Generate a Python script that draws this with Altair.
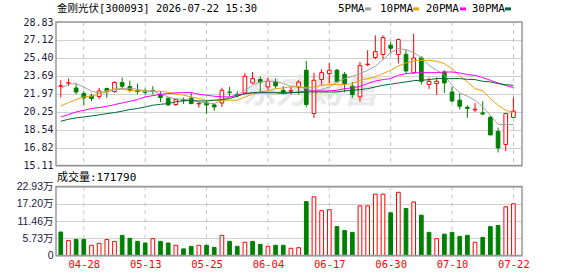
import json
import altair as alt
import pandas as pd

# ---------------- data ----------------
dates = ["04-23", "04-24", "04-27", "04-28", "04-29", "04-30", "05-06", "05-07", "05-08", "05-11",
         "05-12", "05-13", "05-14", "05-15", "05-18", "05-19", "05-20", "05-21", "05-22", "05-25",
         "05-26", "05-27", "05-28", "05-29", "06-01", "06-02", "06-03", "06-04", "06-08", "06-09",
         "06-10", "06-11", "06-12", "06-15", "06-16", "06-17", "06-18", "06-22", "06-23", "06-24",
         "06-25", "06-26", "06-29", "06-30", "07-01", "07-02", "07-03", "07-06", "07-07", "07-08",
         "07-09", "07-10", "07-13", "07-14", "07-15", "07-16", "07-17", "07-20", "07-21", "07-22"]

open_ = [22.68, 22.98, 22.52, 21.99, 21.76, 21.70, 22.47, 22.18, 23.04, 22.66,
         22.26, 22.18, 22.26, 21.92, 21.54, 20.94, 21.40, 21.54, 21.00, 21.09,
         20.90, 21.09, 22.14, 21.92, 22.05, 23.00, 23.33, 22.62, 23.10, 22.30,
         22.22, 22.60, 24.22, 20.08, 23.33, 23.90, 24.22, 23.83, 22.69, 21.67,
         24.76, 25.43, 25.72, 26.61, 25.72, 25.74, 23.96, 25.39, 22.85, 22.94,
         24.05, 22.14, 21.35, 20.68, 20.43, 20.14, 19.72, 18.36, 17.12, 19.70]
high = [23.26, 23.42, 22.94, 22.21, 21.99, 22.52, 22.56, 23.16, 23.52, 23.23,
        22.94, 22.47, 22.69, 22.21, 21.61, 21.45, 21.61, 22.05, 21.19, 21.35,
        21.03, 22.56, 22.62, 22.21, 23.96, 24.05, 23.64, 23.52, 23.42, 22.72,
        22.62, 23.26, 25.10, 23.96, 24.31, 24.91, 24.34, 24.05, 23.10, 25.01,
        26.13, 27.56, 27.56, 26.92, 27.24, 26.19, 27.72, 25.55, 23.52, 23.52,
        24.22, 22.62, 21.99, 20.87, 21.09, 21.25, 19.85, 18.74, 20.08, 21.61]
low = [21.61, 22.72, 21.92, 20.87, 21.25, 21.45, 21.57, 22.08, 22.37, 22.11,
       21.92, 21.89, 21.92, 21.19, 20.80, 20.80, 21.00, 20.97, 20.65, 20.04,
       20.33, 20.71, 21.73, 21.61, 21.92, 22.88, 22.05, 22.30, 22.47, 21.92,
       21.89, 21.92, 20.65, 19.66, 22.78, 22.94, 23.04, 22.11, 21.57, 21.22,
       24.60, 25.27, 25.27, 25.81, 24.86, 23.96, 23.90, 22.85, 22.43, 21.86,
       22.05, 21.16, 20.46, 19.66, 20.23, 19.92, 18.03, 16.35, 16.48, 19.70]
close = [22.74, 23.02, 22.14, 21.57, 21.51, 22.24, 22.24, 23.04, 22.69, 22.30,
         22.18, 22.11, 22.20, 21.61, 20.90, 21.42, 21.30, 21.03, 21.05, 20.90,
         20.71, 22.30, 22.08, 21.80, 23.64, 23.42, 23.07, 23.16, 22.72, 21.99,
         22.26, 23.08, 20.94, 23.26, 23.99, 24.22, 23.13, 22.94, 21.89, 24.66,
         24.80, 26.00, 27.34, 26.32, 27.15, 24.15, 25.39, 23.16, 23.16, 23.16,
         23.00, 21.28, 20.78, 20.56, 20.49, 20.04, 18.03, 16.79, 20.08, 20.30]

# volume in 万 (10k shares)
vol_wan = [7.8, 5.0, 5.37, 5.37, 3.4, 4.05, 5.3, 4.7, 6.7, 5.7,
           4.7, 4.15, 5.6, 4.7, 4.15, 3.4, 2.2, 3.05, 3.4, 3.4,
           2.7, 6.7, 4.7, 3.05, 4.4, 4.7, 3.7, 3.05, 3.4, 3.4,
           2.4, 2.6, 17.9, 19.5, 14.9, 15.2, 9.6, 8.3, 7.7, 16.5,
           16.5, 20.4, 20.4, 14.2, 21.0, 15.6, 17.8, 13.4, 7.7, 5.6,
           7.1, 7.7, 6.35, 6.7, 4.4, 6.0, 9.6, 10.0, 16.2, 17.179]
vol_up = [0, 1, 0, 0, 1, 1, 1, 1, 0, 0,
          0, 0, 1, 0, 0, 1, 0, 0, 1, 0,
          0, 1, 0, 0, 1, 0, 0, 1, 0, 0,
          1, 1, 0, 1, 1, 1, 0, 0, 0, 1,
          1, 1, 1, 0, 1, 0, 1, 0, 0, 1,
          0, 0, 0, 0, 1, 0, 0, 0, 1, 1]

ma5 = [22.46, 22.88, 22.94, 22.62, 22.21, 22.05, 22.08, 22.40, 22.49, 22.49,
       22.40, 22.24, 22.24, 21.92, 21.67, 21.48, 21.44, 21.35, 21.19, 21.09,
       21.03, 21.35, 21.67, 21.83, 22.30, 22.78, 23.10, 23.16, 23.16, 22.94,
       22.68, 22.65, 22.46, 22.24, 22.37, 22.62, 23.10, 23.42, 23.64, 23.90,
       24.21, 24.60, 25.23, 25.90, 26.28, 26.19, 25.90, 25.42, 24.69, 24.21,
       23.73, 22.78, 22.05, 21.73, 21.35, 20.71, 19.91, 19.05, 19.02, 19.02]
ma10 = [20.80, 21.12, 21.41, 21.67, 21.73, 21.98, 22.24, 22.43, 22.40, 22.30,
        22.24, 22.21, 22.21, 22.21, 22.11, 21.95, 21.83, 21.67, 21.51, 21.35,
        21.35, 21.35, 21.35, 21.35, 21.67, 21.92, 22.14, 22.24, 22.46, 22.53,
        22.62, 22.65, 22.58, 22.62, 22.78, 22.84, 22.84, 22.84, 22.94, 23.26,
        23.42, 23.58, 23.90, 24.21, 24.63, 24.91, 25.13, 25.17, 25.17, 25.07,
        24.85, 24.37, 23.73, 23.10, 22.46, 22.24, 21.51, 20.87, 20.39, 20.17]
ma20 = [19.75, 19.98, 20.23, 20.39, 20.55, 20.65, 20.77, 20.93, 21.09, 21.25,
        21.41, 21.67, 21.79, 21.92, 21.98, 22.06, 22.08, 22.08, 21.92, 21.83,
        21.73, 21.67, 21.67, 21.83, 21.98, 22.05, 22.05, 22.05, 22.05, 21.98,
        22.05, 22.14, 22.21, 22.24, 22.24, 22.24, 22.30, 22.46, 22.53, 22.68,
        22.94, 23.19, 23.32, 23.42, 23.73, 23.90, 23.97, 23.99, 23.99, 23.99,
        24.05, 24.05, 23.96, 23.80, 23.73, 23.51, 23.26, 23.00, 22.75, 22.56]
ma30 = [19.34, 19.53, 19.66, 19.75, 19.85, 19.95, 20.07, 20.17, 20.30, 20.46,
        20.55, 20.71, 20.87, 20.96, 21.03, 21.20, 21.30, 21.33, 21.28, 21.28,
        21.35, 21.41, 21.51, 21.73, 21.98, 22.08, 22.11, 22.11, 22.11, 22.11,
        22.11, 22.08, 22.14, 22.14, 22.14, 22.14, 22.14, 22.24, 22.30, 22.37,
        22.46, 22.62, 22.78, 22.88, 23.00, 23.10, 23.22, 23.26, 23.32, 23.42,
        23.42, 23.42, 23.42, 23.35, 23.32, 23.16, 23.10, 22.94, 22.84, 22.78]

ma_names = ["5PMA", "10PMA", "20PMA", "30PMA"]
ma_colors = ["#a0a0a0", "#f0a000", "#ff00ff", "#006a35"]

tick_idx = [3, 11, 19, 27, 35, 43, 51, 59]
price_ticks = [15.11, 16.82, 18.54, 20.25, 21.97, 23.69, 25.40, 27.12, 28.83]
vol_ticks = [0, 5.73, 11.46, 17.20, 22.93]

title_text = "金刚光伏[300093] 2026-07-22 15:30"

# ---------------- layout (pixels) ----------------
W = 466          # plot width
H_TOP = 143.5    # price panel height
GAP = 21         # gap between panels
H_VOL = 69       # volume panel height
H = H_TOP + GAP + H_VOL
leg_text_x = [282, 324, 369.7, 415.7]
leg_sq_x = [309, 357, 404, 449]

RED = "#ff0000"
GREEN = "#008000"

# ---------------- tables ----------------
n = len(dates)
df = pd.DataFrame({"i": list(range(n)), "open": open_, "high": high,
                   "low": low, "close": close, "vol": vol_wan})
df["dir"] = ["up" if c >= o else "down" for o, c in zip(open_, close)]
df["vdir"] = ["up" if v else "down" for v in vol_up]

ma_rows = []
for name, series in zip(ma_names, [ma5, ma10, ma20, ma30]):
    for k, v in enumerate(series):
        ma_rows.append({"i": k, "ma": v, "name": name})
ma_df = pd.DataFrame(ma_rows)

leg_df = pd.DataFrame({"name": ma_names, "tx": leg_text_x, "sx": leg_sq_x,
                       "sx2": [s + 6 for s in leg_sq_x]})
grid_df = pd.DataFrame({"i": tick_idx})

# scales: both panels share one plot area, so each y domain is stretched
p_lo, p_hi = price_ticks[0], price_ticks[-1]
p_bottom = p_hi - (p_hi - p_lo) * H / H_TOP
v_top = vol_ticks[-1] * H / H_VOL

xs = alt.Scale(domain=[-0.625, 60.12], nice=False, zero=False)
ys = alt.Scale(domain=[p_bottom, p_hi], nice=False, zero=False)
vs = alt.Scale(domain=[0, v_top], nice=False, zero=False)
dir_scale = alt.Scale(domain=["up", "down"], range=[RED, GREEN])
ma_scale = alt.Scale(domain=ma_names, range=ma_colors)

ax_x = alt.Axis(values=tick_idx, labelExpr=json.dumps(dates) + "[datum.value]",
                labelColor=RED, labelFont="DejaVu Sans Mono", labelFontSize=10.5,
                labelPadding=4, labelFlush=False, labelOverlap=False,
                grid=False, ticks=False, domain=False, title=None)
ax_price = alt.Axis(values=price_ticks, format=".2f", grid=True, gridColor="#d0d0d0",
                    ticks=False, domain=False, title=None, orient="left",
                    labelFont="DejaVu Sans Mono", labelFontSize=10, labelColor="#1a1a40",
                    labelPadding=3, labelFlush=False, labelOverlap=False)
ax_vol = alt.Axis(values=vol_ticks, orient="left",
                  labelExpr="datum.value == 0 ? '0' : format(datum.value, '.2f') + '万'",
                  grid=True, gridColor="#d0d0d0", ticks=False, domain=False, title=None,
                  labelFont="Liberation Sans, Noto Sans CJK SC", labelFontSize=10.5,
                  labelColor="#1a1a40", labelPadding=3, labelFlush=False, labelOverlap=False)

X = lambda f: alt.X(f, scale=xs, axis=ax_x)

# ---------------- price layers ----------------
watermark = alt.Chart(pd.DataFrame({"t": ["东方财富"]})).mark_text(
    font="Noto Sans CJK SC", fontSize=34, fontWeight="bold", fontStyle="italic",
    color="#e9e9e9", align="center", baseline="middle"
).encode(text="t:N", x=alt.value(254), y=alt.value(71))

wicks = alt.Chart(df).mark_rule(strokeWidth=1).encode(
    x=X("i:Q"),
    y=alt.Y("low:Q", scale=ys, axis=ax_price), y2="high:Q",
    color=alt.Color("dir:N", scale=dir_scale, legend=None),
)
bodies_up = alt.Chart(df).transform_filter("datum.dir == 'up'").transform_calculate(
    x1="datum.i - 0.24", x2="datum.i + 0.24"
).mark_rect(fill="white", stroke=RED, strokeWidth=1).encode(
    x=X("x1:Q"), x2="x2:Q",
    y=alt.Y("open:Q", scale=ys, axis=ax_price), y2="close:Q",
)
bodies_down = alt.Chart(df).transform_filter("datum.dir == 'down'").transform_calculate(
    x1="datum.i - 0.24", x2="datum.i + 0.24"
).mark_rect(fill=GREEN, stroke=GREEN, strokeWidth=1).encode(
    x=X("x1:Q"), x2="x2:Q",
    y=alt.Y("open:Q", scale=ys, axis=ax_price), y2="close:Q",
)
ma_lines = alt.Chart(ma_df).mark_line(strokeWidth=1).encode(
    x=X("i:Q"),
    y=alt.Y("ma:Q", scale=ys, axis=ax_price),
    stroke=alt.Stroke("name:N", scale=ma_scale, legend=None),
    detail="name:N",
)
price_layer = alt.layer(wicks, bodies_up, bodies_down, ma_lines)

# ---------------- volume layers ----------------
vol_up_bars = alt.Chart(df).transform_filter("datum.vdir == 'up'").transform_calculate(
    x1="datum.i - 0.24", x2="datum.i + 0.24"
).mark_rect(fill="white", stroke=RED, strokeWidth=1).encode(
    x=X("x1:Q"), x2="x2:Q",
    y=alt.Y("vol:Q", scale=vs, axis=ax_vol), y2=alt.datum(0),
)
vol_down_bars = alt.Chart(df).transform_filter("datum.vdir == 'down'").transform_calculate(
    x1="datum.i - 0.24", x2="datum.i + 0.24"
).mark_rect(fill=GREEN, stroke=GREEN, strokeWidth=1).encode(
    x=X("x1:Q"), x2="x2:Q",
    y=alt.Y("vol:Q", scale=vs, axis=ax_vol), y2=alt.datum(0),
)
vol_layer = alt.layer(vol_up_bars, vol_down_bars)

# ---------------- panel furniture ----------------
vgrid_top = alt.Chart(grid_df).mark_rule(color="#c4c4c4", strokeDash=[4, 4], strokeWidth=1).encode(
    x=X("i:Q"), y=alt.value(0), y2=alt.value(H_TOP))
vgrid_vol = alt.Chart(grid_df).mark_rule(color="#c4c4c4", strokeDash=[4, 4], strokeWidth=1).encode(
    x=X("i:Q"), y=alt.value(H_TOP + GAP), y2=alt.value(H))

frames = alt.Chart(pd.DataFrame({"y0": [0, H_TOP + GAP], "y1": [H_TOP, H]})).mark_rect(
    fill=None, stroke="#999999", strokeWidth=1.5
).encode(x=alt.value(0), x2=alt.value(W),
         y=alt.Y("y0:Q", scale=None, axis=None), y2="y1:Q")

title_mark = alt.Chart(pd.DataFrame({"t": [title_text]})).mark_text(
    font="DejaVu Sans Mono, Noto Sans CJK SC", fontSize=10.5, color="#000000",
    align="left", baseline="middle"
).encode(text="t:N", x=alt.value(1), y=alt.value(-13.4))

leg_text = alt.Chart(leg_df).mark_text(
    font="DejaVu Sans Mono", fontSize=11, color="#000000", align="left", baseline="middle"
).encode(text="name:N", x=alt.X("tx:Q", scale=None, axis=None), y=alt.value(-13.4))

leg_sq = alt.Chart(leg_df).mark_rect().encode(
    x=alt.X("sx:Q", scale=None, axis=None), x2="sx2:Q",
    y=alt.value(-14.6), y2=alt.value(-11.6),
    fill=alt.Fill("name:N", scale=ma_scale, legend=None),
)

vol_label = alt.Chart(pd.DataFrame({"t": ["成交量:" + str(round(vol_wan[-1] * 10000))]})).mark_text(
    font="DejaVu Sans Mono, Noto Sans CJK SC", fontSize=11, color="#000000",
    align="left", baseline="middle"
).encode(text="t:N", x=alt.value(1), y=alt.value(H_TOP + GAP - 9))

chart = alt.layer(
    watermark, vgrid_top, vgrid_vol, price_layer, vol_layer, frames,
    title_mark, leg_text, leg_sq, vol_label
).resolve_scale(y="independent", color="independent").properties(
    width=W, height=H,
    padding={"left": 56, "top": 22, "right": 56, "bottom": 20.5},
    autosize=alt.AutoSizeParams(type="none"),
    background="white",
).configure_view(stroke=None)

chart.save("out.html", embed_options={"renderer": "svg", "actions": False})
